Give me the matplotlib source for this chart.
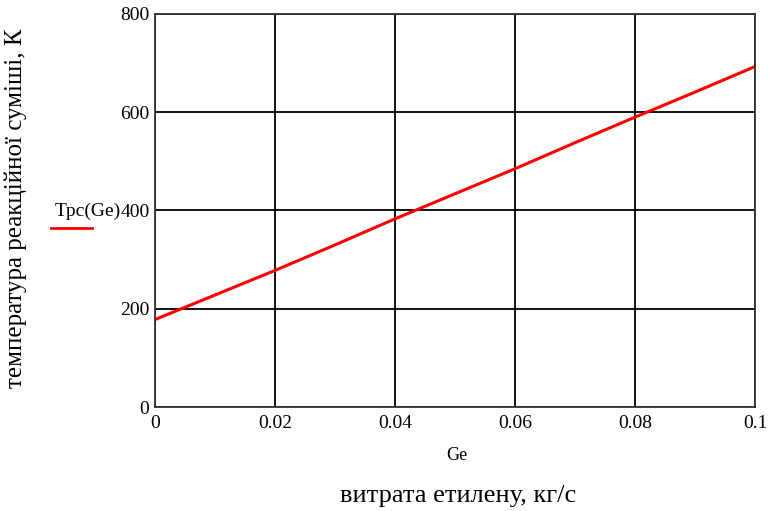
import numpy as np
import matplotlib.pyplot as plt

plt.rcParams['font.family'] = ['Liberation Serif', 'DejaVu Serif']

# values
Ge = [0.0, 0.01, 0.02, 0.03, 0.04, 0.05, 0.06, 0.07, 0.08, 0.09, 0.1]
Trc = [178, 228, 278, 330, 383, 434, 485, 538, 590, 641, 693]
xticks = [0, 0.02, 0.04, 0.06, 0.08, 0.1]
xtick_labels = ['0', '0.02', '0.04', '0.06', '0.08', '0.1']
yticks = [0, 200, 400, 600, 800]

fig = plt.figure(figsize=(7.71, 5.11), dpi=100)
ax = fig.add_axes([155 / 771, 1 - 407 / 511, 600 / 771, 393 / 511])

ax.plot(Ge, Trc, color='red', lw=2.2)

ax.set_xlim(0, 0.1)
ax.set_ylim(0, 800)
ax.set_xticks(xticks)
ax.set_xticklabels(xtick_labels)
ax.set_yticks(yticks)
ax.grid(True, color='black', lw=1.3)
ax.tick_params(length=0, labelsize=14)
ax.tick_params(axis='y', pad=4)
ax.tick_params(axis='x', pad=6)
for s in ax.spines.values():
    s.set_linewidth(1.3)
    s.set_color('#333333')

# legend-like label next to y axis (Mathcad style)
fig.text(55 / 771, 1 - 211 / 511, 'Tpc(Ge)', fontsize=14, va='center', ha='left')
fig.add_artist(plt.Line2D([51 / 771, 92 / 771], [1 - 228 / 511, 1 - 228 / 511],
                          color='red', lw=2))

fig.text(457 / 771, 1 - 455 / 511, 'Ge', fontsize=13, ha='center', va='center')
fig.text(458 / 771, 1 - 496 / 511, 'витрата етилену, кг/с', fontsize=19,
         ha='center', va='center')
fig.text(16 / 771, 1 - 208 / 511, 'температура реакційної суміші, К', fontsize=18,
         rotation=90, ha='center', va='center')

fig.savefig('out.png', dpi=100)
